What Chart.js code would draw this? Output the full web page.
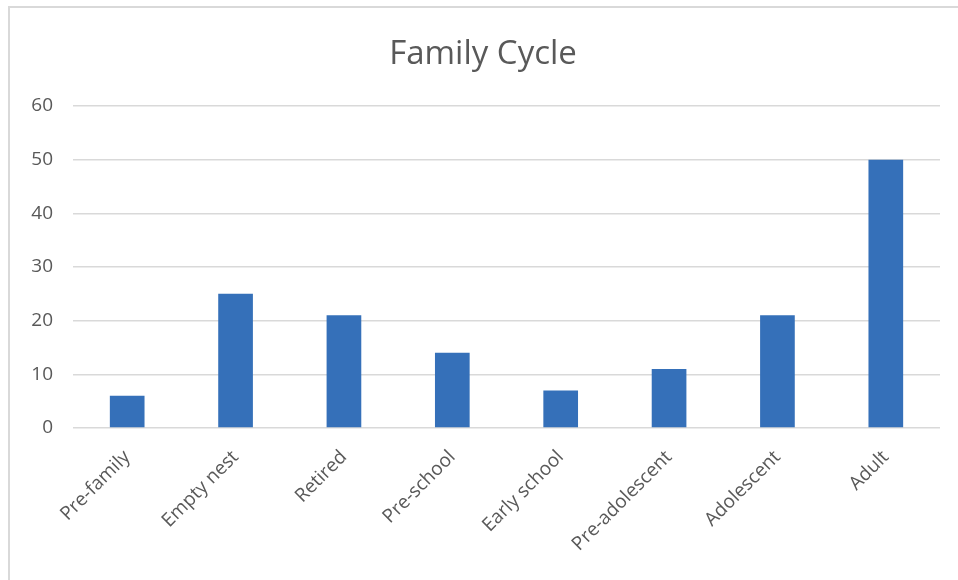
<!DOCTYPE html>
<html>
<head>
<meta charset="utf-8">
<script src="https://cdn.jsdelivr.net/npm/chart.js@4"></script>
<style>
    html, body { margin: 0; padding: 0; background: #fff; overflow: hidden; }
    #frame {
        position: absolute; left: 8px; top: 6px; width: 1000px; height: 640px;
        border: 2px solid #d9d9d9;
    }
    #wrap { position: absolute; left: 0; top: 0; width: 958px; height: 580px; }
</style>
</head>
<body>
<div id="frame"></div>
<div id="wrap"><canvas id="familyChart" width="958" height="580"></canvas></div>
<script>
// Data
const categories = ['Pre-family', 'Empty nest', 'Retired', 'Pre-school', 'Early school', 'Pre-adolescent', 'Adolescent', 'Adult'];
const counts = [6, 25, 21, 14, 7, 11, 21, 50];
const yTicks = [0, 10, 20, 30, 40, 50, 60];

const textColor = '#595959';
const gridColor = '#d9d9d9';
const fontFamily = "'Open Sans', 'Liberation Sans', sans-serif";

const ctx = document.getElementById('familyChart').getContext('2d');

const familyChart = new Chart(ctx, {
    type: 'bar',
    data: {
        labels: categories,
        datasets: [{
            label: 'Family Cycle',
            data: counts,
            backgroundColor: '#3570b9',
            borderWidth: 0,
            categoryPercentage: 1,
            barPercentage: 0.32
        }]
    },
    options: {
        responsive: false,
        animation: false,
        layout: {
            // some left padding pushes the title a bit right, like the original
            padding: { left: 26, right: 18, top: 0, bottom: 0 }
        },
        scales: {
            x: {
                grid: { display: false, drawTicks: false },
                border: { display: false },
                ticks: {
                    color: textColor,
                    maxRotation: 45,
                    minRotation: 45,
                    padding: 18,
                    font: { family: fontFamily, size: 19 }
                },
                afterFit: (scale) => { scale.height = 152; }
            },
            y: {
                min: 0,
                max: 60,
                afterBuildTicks: (scale) => {
                    scale.ticks = yTicks.map(v => ({ value: v }));
                },
                grid: { color: gridColor, lineWidth: 1.5, drawTicks: false },
                border: { display: false },
                ticks: {
                    color: textColor,
                    padding: 20,
                    font: { family: fontFamily, size: 19 }
                },
                afterFit: (scale) => { scale.width = 47; }
            }
        },
        plugins: {
            legend: { display: false },
            tooltip: { enabled: false },
            title: {
                display: true,
                text: 'Family Cycle',
                color: textColor,
                font: { family: fontFamily, size: 33, weight: 'normal' },
                padding: { top: 35, bottom: 31.4 }
            }
        }
    }
});
</script>
</body>
</html>
